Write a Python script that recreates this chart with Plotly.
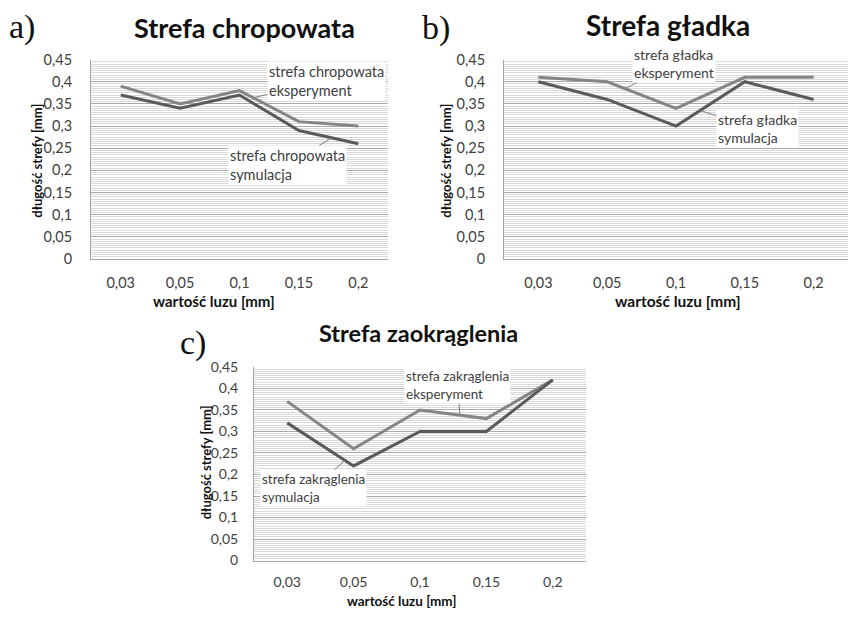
import numpy as np
import plotly.graph_objects as go

W, H = 855, 623

categories = ["0,03", "0,05", "0,1", "0,15", "0,2"]

a_eksperyment = [0.39, 0.35, 0.38, 0.31, 0.30]
a_symulacja = [0.37, 0.34, 0.37, 0.29, 0.26]
b_eksperyment = [0.41, 0.40, 0.34, 0.41, 0.41]
b_symulacja = [0.40, 0.36, 0.30, 0.40, 0.36]
c_eksperyment = [0.37, 0.26, 0.35, 0.33, 0.42]
c_symulacja = [0.32, 0.22, 0.30, 0.30, 0.42]

titles = ["Strefa chropowata", "Strefa gładka", "Strefa zaokrąglenia"]
panel_letters = ["a)", "b)", "c)"]
y_title = "długość strefy [mm]"
x_title = "wartość luzu [mm]"

FONT = "Lato"
TXT = "#404040"
C_EKS = "#858585"
C_SYM = "#5a5a5a"


def px_x(p):
    return p / W


def px_y(p):
    return 1 - p / H


# plot areas in pixels: (left, right, top, bottom)
areas = [(91, 388, 52, 257), (504, 848, 52, 257), (254, 586, 368, 567)]
# per-panel font sizes: tick, y title, x title, title
fs = [(14.5, 13, 15, 27), (14.5, 13, 15.5, 28), (14, 13, 13.5, 23.5)]

fig = go.Figure()
series = [(a_eksperyment, a_symulacja), (b_eksperyment, b_symulacja), (c_eksperyment, c_symulacja)]
for i, (eks, sym) in enumerate(series):
    sfx = "" if i == 0 else str(i + 1)
    for vals, col, name in [(eks, C_EKS, "eksperyment"), (sym, C_SYM, "symulacja")]:
        fig.add_trace(go.Scatter(x=list(range(len(categories))), y=vals, mode="lines",
                                 line=dict(color=col, width=3), name=name,
                                 xaxis="x" + sfx, yaxis="y" + sfx, showlegend=False))

layout = dict(width=W, height=H, margin=dict(l=0, r=0, t=0, b=0),
              paper_bgcolor="white", plot_bgcolor="white", separators=", ",
              font=dict(family=FONT, color=TXT, size=13), showlegend=False)

stand_y = [15, 15, 12]
stand_x = [11, 11, 9]
for i, (l, r, t, b) in enumerate(areas):
    sfx = "" if i == 0 else str(i + 1)
    layout["xaxis" + sfx] = dict(domain=[px_x(l), px_x(r)], anchor="y" + sfx,
                                 range=[-0.5, 4.5], tickmode="array",
                                 tickvals=list(range(len(categories))), ticktext=categories,
                                 showgrid=False, zeroline=False, showline=True,
                                 linecolor="#a6a6a6", linewidth=1, ticks="",
                                 ticklabelstandoff=stand_x[i], tickfont=dict(size=fs[i][0], color=TXT))
    layout["yaxis" + sfx] = dict(domain=[px_y(b), px_y(t)], anchor="x" + sfx,
                                 range=[0, 0.45], dtick=0.05, tick0=0,
                                 showgrid=True, gridcolor="#a9a9a9", gridwidth=1,
                                 minor=dict(dtick=0.005, showgrid=True, gridcolor="#d9d9d9", gridwidth=1),
                                 zeroline=False, showline=True, linecolor="#a6a6a6", linewidth=1,
                                 ticks="", ticklabelstandoff=stand_y[i],
                                 tickfont=dict(size=fs[i][0], color=TXT))

annotations = []
# titles
title_pos = [(244, 19), (668, 16), (418, 333)]
for i, ((x, y), t) in enumerate(zip(title_pos, titles)):
    annotations.append(dict(xref="paper", yref="paper", x=px_x(x), y=px_y(y), text="<b>" + t + "</b>",
                            showarrow=False, xanchor="center", yanchor="middle",
                            font=dict(family=FONT, size=fs[i][3], color="#111111")))
# panel letters
letter_pos = [(22, 19), (436, 20), (193, 343)]
for (x, y), t in zip(letter_pos, panel_letters):
    annotations.append(dict(xref="paper", yref="paper", x=px_x(x), y=px_y(y), text=t,
                            showarrow=False, xanchor="center", yanchor="middle",
                            font=dict(family="Liberation Serif", size=34, color="#111111")))
# axis titles
ytitle_pos = [(37, 156), (446, 156), (206, 466)]
xtitle_pos = [(214, 300), (678, 300), (402, 609)]
for i, (x, y) in enumerate(ytitle_pos):
    annotations.append(dict(xref="paper", yref="paper", x=px_x(x), y=px_y(y), text="<b>" + y_title + "</b>",
                            showarrow=False, textangle=-90, xanchor="center", yanchor="middle",
                            font=dict(family=FONT, size=fs[i][1], color="#111111")))
for i, (x, y) in enumerate(xtitle_pos):
    annotations.append(dict(xref="paper", yref="paper", x=px_x(x), y=px_y(y), text="<b>" + x_title + "</b>",
                            showarrow=False, xanchor="center", yanchor="middle",
                            font=dict(family=FONT, size=fs[i][2], color="#111111")))

# series labels with leader lines: (panel, values, position along x, text, ax, ay, font size)
labels = [
    (0, a_eksperyment, 2.23, "strefa chropowata<br>eksperyment", 73, -17, 14.5),
    (0, a_symulacja, 3.55, "strefa chropowata<br>symulacja", -44, 27, 14.5),
    (1, b_eksperyment, 1.26, "strefa gładka<br>eksperyment", 49, -25, 14),
    (1, b_symulacja, 2.35, "strefa gładka<br>symulacja", 57, 18, 14),
    (2, c_eksperyment, 2.6, "strefa zakrąglenia<br>eksperyment", -2, -30, 13.5),
    (2, c_symulacja, 0.87, "strefa zakrąglenia<br>symulacja", -31, 28, 13.5),
]
for p, vals, xpos, text, ax, ay, fsz in labels:
    sfx = "" if p == 0 else str(p + 1)
    yv = float(np.interp(xpos, range(len(vals)), vals))
    annotations.append(dict(xref="x" + sfx, yref="y" + sfx, x=xpos, y=yv, text=text,
                            showarrow=True, arrowhead=0, arrowwidth=1, arrowcolor="#7f7f7f",
                            ax=ax, ay=ay, axref="pixel", ayref="pixel", align="left",
                            bgcolor="white", borderpad=1,
                            font=dict(family=FONT, size=fsz, color=TXT)))

layout["annotations"] = annotations
fig.update_layout(**layout)

post = ("document.documentElement.style.margin='0';document.documentElement.style.padding='0';"
        "document.body.style.margin='0';document.body.style.padding='0';"
        "document.documentElement.style.overflow='hidden';document.body.style.overflow='hidden';"
        "var gd=document.getElementsByClassName('plotly-graph-div')[0];"
        "gd.style.position='fixed';gd.style.left='0px';gd.style.top='0px';")
fig.write_html("out.html", post_script=post, config={"displayModeBar": False, "staticPlot": True})
